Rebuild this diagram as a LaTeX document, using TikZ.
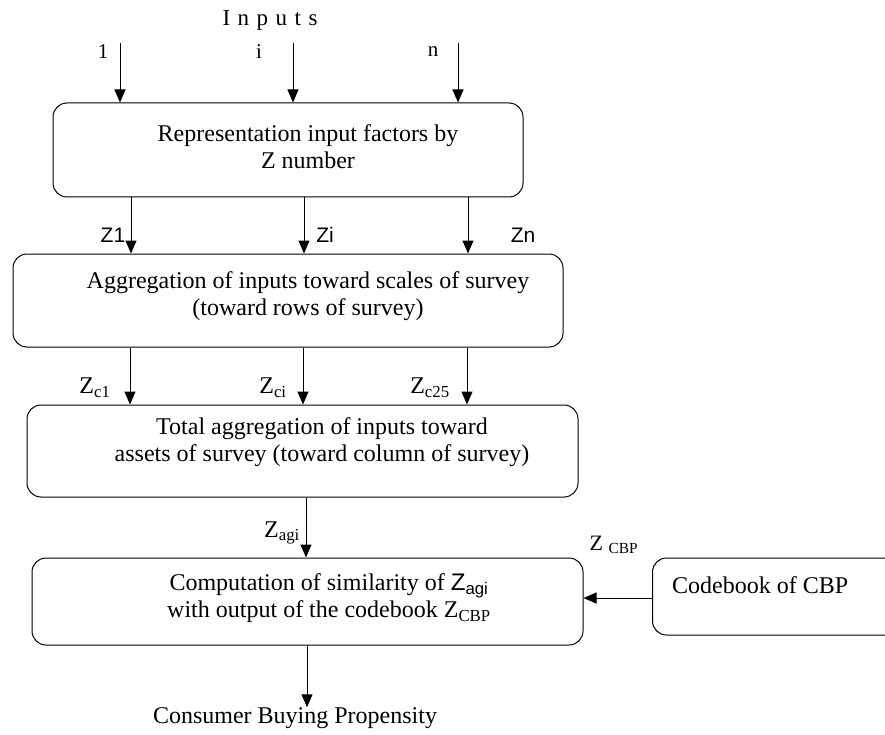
\documentclass[tikz,border=0pt]{standalone}
\usepackage{fontspec}
\setmainfont{Liberation Serif}
\setsansfont{Liberation Sans}
\usetikzlibrary{arrows.meta,positioning}

\tikzset{
	procbox/.style={draw,line width=1pt,rounded corners=14pt,inner sep=0pt},
	txt/.style={align=center,inner sep=0pt,font=\fontsize{24}{27}\selectfont},
	lbl/.style={inner sep=0pt,font=\fontsize{24}{27}\selectfont},
	zlbl/.style={inner sep=0pt,font=\sffamily\fontsize{21}{24}\selectfont},
	arr/.style={line width=1pt,-{Triangle[length=13pt,width=11pt]}}
}

\begin{document}
\begin{tikzpicture}[x=1pt,y=-1pt]
	\useasboundingbox (0,0) rectangle (885,735);
	\clip (0,0) rectangle (885,735);
	% boxes
	\node[procbox,minimum width=470,minimum height=94] (rep) at (288,150) {};
	\node[procbox,minimum width=550,minimum height=93] (agg) at (288,300.5) {};
	\node[procbox,minimum width=551,minimum height=92] (tot) at (302.5,451) {};
	\node[procbox,minimum width=551,minimum height=87] (comp) at (307.5,601.5) {};
	\node[procbox,minimum width=400,minimum height=77,anchor=west] (code) at (652,596.5) {};
	% texts
	\node[txt] (reptext) at (308,147) {Representation input factors by\\Z number};
	\node[txt] (aggtext) at (308,296) {Aggregation of inputs toward scales of survey\\(toward rows of survey)};
	\node[txt] (tottext) at (322,442) {Total aggregation of inputs toward\\assets of survey (toward column of survey)};
	\node[txt] (comptext) at (329,598) {Computation of similarity of {\sffamily Z\textsubscript{agi}}\\with output of the codebook Z\textsubscript{CBP}};
	\node[txt,anchor=west] (codetext) at (672,585) {Codebook of CBP};
	\node[txt] (cbp) at (295,718) {Consumer Buying Propensity};
	% inputs
	\node[lbl,font=\fontsize{23}{26}\selectfont] (inputs) at (270,20) {\spaceskip=7.5pt I n p u t s};
	\node[lbl,font=\fontsize{21}{24}\selectfont] (in1) at (103,52) {1};
	\node[lbl,font=\fontsize{21}{24}\selectfont] (ini) at (259,52) {i};
	\node[lbl,font=\fontsize{21}{24}\selectfont] (inn) at (433,52) {n};
	\coordinate (t1) at (120,43);
	\coordinate (ti) at (293,43);
	\coordinate (tn) at (458,43);
	\draw[arr] (t1) -- (rep.north -| t1);
	\draw[arr] (ti) -- (rep.north -| ti);
	\draw[arr] (tn) -- (rep.north -| tn);
	% Z numbers
	\foreach \xa in {131,304,468}
		\draw[arr] (rep.south -| \xa,0) -- (agg.north -| \xa,0);
	\node[zlbl] (z1) at (113,235) {Z1};
	\node[zlbl] (zi) at (325,235) {Zi};
	\node[zlbl] (zn) at (523,235) {Zn};
	% scales
	\foreach \xa in {130,303,467}
		\draw[arr] (agg.south -| \xa,0) -- (tot.north -| \xa,0);
	\node[lbl] (zc1) at (95,388) {Z\textsubscript{c1}};
	\node[lbl] (zci) at (273,388) {Z\textsubscript{ci}};
	\node[lbl] (zc25) at (430,388) {Z\textsubscript{c25}};
	% total
	\draw[arr] (tot.south -| 306,0) -- (comp.north -| 306,0);
	\node[lbl] (zagi) at (282,533) {Z\textsubscript{agi}};
	\draw[arr] (code.west |- 0,598) -- (comp.east |- 0,598);
	\node[lbl,font=\fontsize{22}{26}\selectfont] (zcbp) at (614,545) {Z \textsubscript{CBP}};
	\draw[arr] (comp.south -| 307,0) -- (cbp.north -| 307,0);
\end{tikzpicture}
\end{document}
